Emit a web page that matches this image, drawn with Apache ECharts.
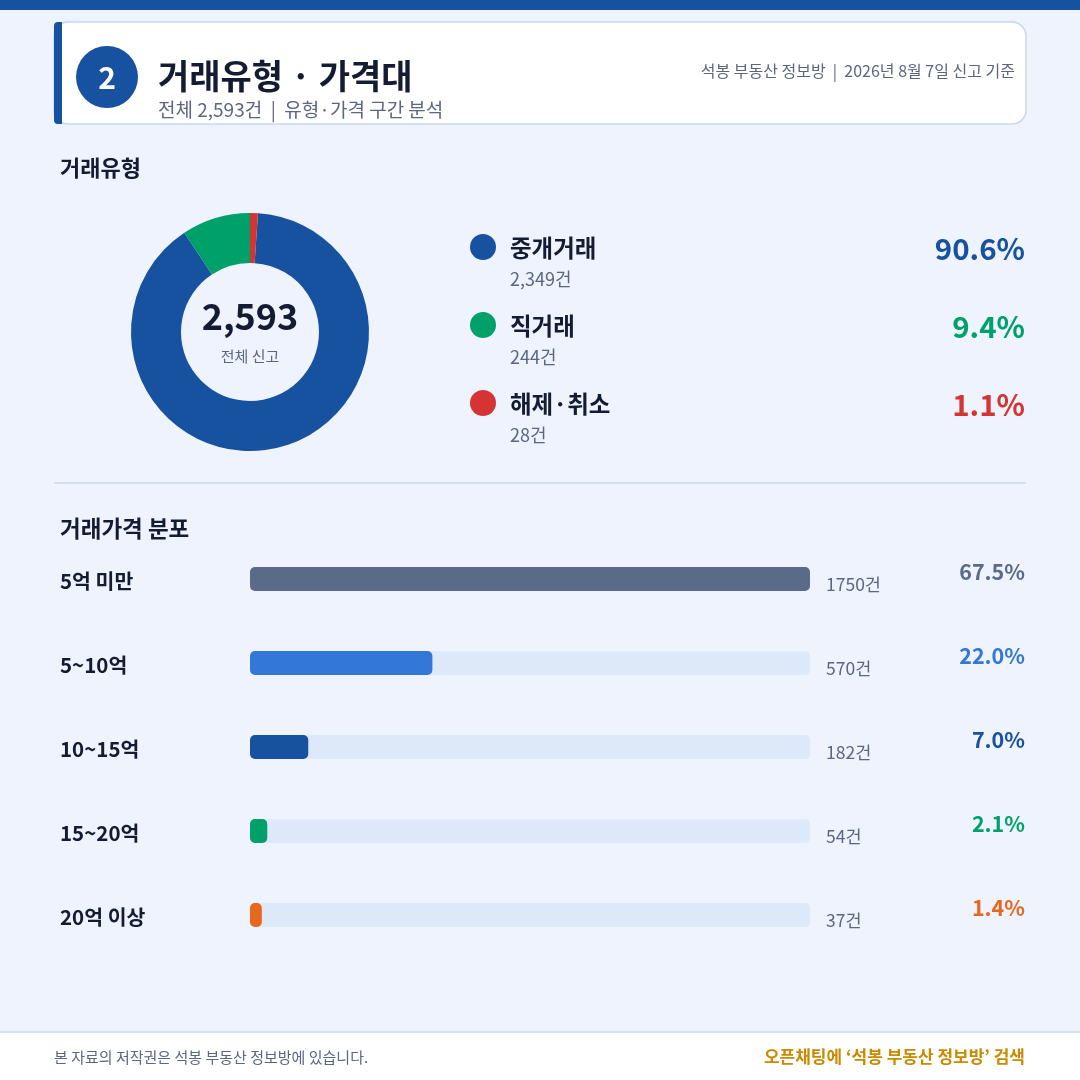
<!DOCTYPE html>
<html>
<head>
<meta charset="utf-8">
<script src="https://cdn.jsdelivr.net/npm/echarts@6/dist/echarts.min.js"></script>
<style>
  html, body { margin: 0; padding: 0; background: #eef3fd; }
  #chart { width: 1080px; height: 1080px; }
</style>
</head>
<body>
<div id="chart"></div>
<script>
// 거래유형
var typeNames = ['중개거래', '직거래', '해제·취소'];
var typeCounts = [2349, 244, 28];
var typePercents = ['90.6%', '9.4%', '1.1%'];
var typeColors = ['#1652a0', '#00a06b', '#d53434'];

// 거래가격 분포
var priceNames = ['5억 미만', '5~10억', '10~15억', '15~20억', '20억 이상'];
var priceCounts = [1750, 570, 182, 54, 37];
var pricePercents = ['67.5%', '22.0%', '7.0%', '2.1%', '1.4%'];
var priceColors = ['#5a6b8a', '#3377d8', '#1652a0', '#00a06b', '#e8671e'];

var totalCount = '2,593';

var FONT = '"Noto Sans CJK KR", "Noto Sans", sans-serif';
var DARK = '#141c33';
var GREY = '#5b6680';

var myChart = echarts.init(document.getElementById('chart'));

var typeSum = typeCounts.reduce(function (a, b) { return a + b; }, 0);
// 마지막 조각(해제·취소)이 12시 방향 바로 오른쪽에 오도록 시작각 조정
var startAngle = 90 - 360 * typeCounts[typeCounts.length - 1] / typeSum;

function txt(x, y, text, size, color, weight, align) {
    return {
        type: 'text', x: x, y: y, silent: true,
        style: {
            text: text, fontSize: size, fill: color, fontFamily: FONT,
            fontWeight: weight || 'normal', align: align || 'left', verticalAlign: 'middle'
        }
    };
}

var graphics = [
    // 상단 바
    { type: 'rect', shape: { x: 0, y: 0, width: 1080, height: 10 }, style: { fill: '#1652a0' } },
    // 헤더 카드
    { type: 'rect', shape: { x: 54, y: 22, width: 972, height: 102, r: 14 }, style: { fill: '#ffffff', stroke: '#c9d7ee', lineWidth: 1.5 } },
    { type: 'rect', shape: { x: 54, y: 22, width: 8, height: 102, r: [4, 0, 0, 4] }, style: { fill: '#1652a0' } },
    { type: 'circle', shape: { cx: 107, cy: 77, r: 31 }, style: { fill: '#1652a0' } },
    txt(107, 78, '2', 30, '#ffffff', 'bold', 'center'),
    txt(158, 76, '거래유형 · 가격대', 34, DARK, 'bold'),
    txt(158, 110, '전체 2,593건  |  유형·가격 구간 분석', 19, GREY),
    txt(1015, 71, '석봉 부동산 정보방  |  2026년 8월 7일 신고 기준', 16, GREY, 'normal', 'right'),
    // 섹션 제목
    txt(60, 168, '거래유형', 22, DARK, 'bold'),
    txt(60, 528, '거래가격 분포', 22.5, DARK, 'bold'),
    // 구분선
    { type: 'line', shape: { x1: 54, y1: 483, x2: 1026, y2: 483 }, style: { stroke: '#c9d7ee', lineWidth: 1.5 } },
    // 도넛 중앙
    txt(250, 316, totalCount, 36, DARK, 'bold', 'center'),
    txt(250, 356, '전체 신고', 15, GREY, 'normal', 'center'),
    // 푸터
    { type: 'rect', shape: { x: 0, y: 1032, width: 1080, height: 48 }, style: { fill: '#ffffff' } },
    { type: 'line', shape: { x1: 0, y1: 1032, x2: 1080, y2: 1032 }, style: { stroke: '#c9d7ee', lineWidth: 1.5 } },
    txt(54, 1057, '본 자료의 저작권은 석봉 부동산 정보방에 있습니다.', 15, GREY),
    txt(1025, 1057, '오픈채팅에 ‘석봉 부동산 정보방’ 검색', 17, '#c98a00', 'bold', 'right')
];

// 거래유형 범례
typeNames.forEach(function (name, i) {
    var y = 247 + i * 78;
    graphics.push({ type: 'circle', shape: { cx: 483, cy: y, r: 13 }, style: { fill: typeColors[i] } });
    graphics.push(txt(510, y + 1, name, 23.5, DARK, 'bold'));
    graphics.push(txt(510, y + 32, typeCounts[i].toLocaleString('en-US') + '건', 18, GREY));
    graphics.push(txt(1025, y + 2, typePercents[i], 29.5, typeColors[i], 'bold', 'right'));
});

var option = {
    backgroundColor: '#eef3fd',
    animation: false,
    textStyle: { fontFamily: FONT },
    graphic: graphics,
    grid: { left: 250, right: 270, top: 537, bottom: 123 },
    xAxis: { type: 'value', min: 0, max: priceCounts[0], show: false },
    yAxis: [
        {
            type: 'category', inverse: true, data: priceNames,
            axisLine: { show: false }, axisTick: { show: false },
            axisLabel: {
                align: 'left', margin: 190,
                formatter: function (v) { return '{a|' + v + '}'; },
                rich: { a: { fontSize: 20.5, fontWeight: 'bold', color: DARK, fontFamily: FONT, padding: [4, 0, 0, 0] } }
            }
        },
        {
            type: 'category', inverse: true, position: 'right', data: priceCounts.map(function (c) { return c + '건'; }),
            axisLine: { show: false }, axisTick: { show: false },
            axisLabel: {
                align: 'left', margin: 16,
                formatter: function (v) { return '{a|' + v + '}'; },
                rich: { a: { fontSize: 17.5, color: GREY, fontFamily: FONT, padding: [10, 0, 0, 0] } }
            }
        },
        {
            type: 'category', inverse: true, position: 'right', data: pricePercents,
            axisLine: { show: false }, axisTick: { show: false },
            axisLabel: {
                align: 'right', margin: 215,
                formatter: function (v, i) { return '{c' + i + '|' + v + '}'; },
                rich: (function () {
                    var r = {};
                    priceColors.forEach(function (c, i) {
                        r['c' + i] = { fontSize: 21.5, fontWeight: 'bold', color: c, fontFamily: FONT, padding: [0, 0, 14, 0] };
                    });
                    return r;
                })()
            }
        }
    ],
    series: [
        {
            type: 'pie',
            center: [250, 332],
            radius: [69, 119],
            startAngle: startAngle,
            silent: true,
            label: { show: false },
            labelLine: { show: false },
            data: typeNames.map(function (n, i) {
                return { name: n, value: typeCounts[i], itemStyle: { color: typeColors[i] } };
            })
        },
        {
            type: 'bar',
            yAxisIndex: 0,
            barWidth: 24,
            silent: true,
            showBackground: true,
            backgroundStyle: { color: '#dde8f9', borderRadius: 5 },
            data: priceCounts.map(function (c, i) {
                return { value: c, itemStyle: { color: priceColors[i], borderRadius: 5 } };
            })
        }
    ]
};

myChart.setOption(option);
</script>
</body>
</html>
